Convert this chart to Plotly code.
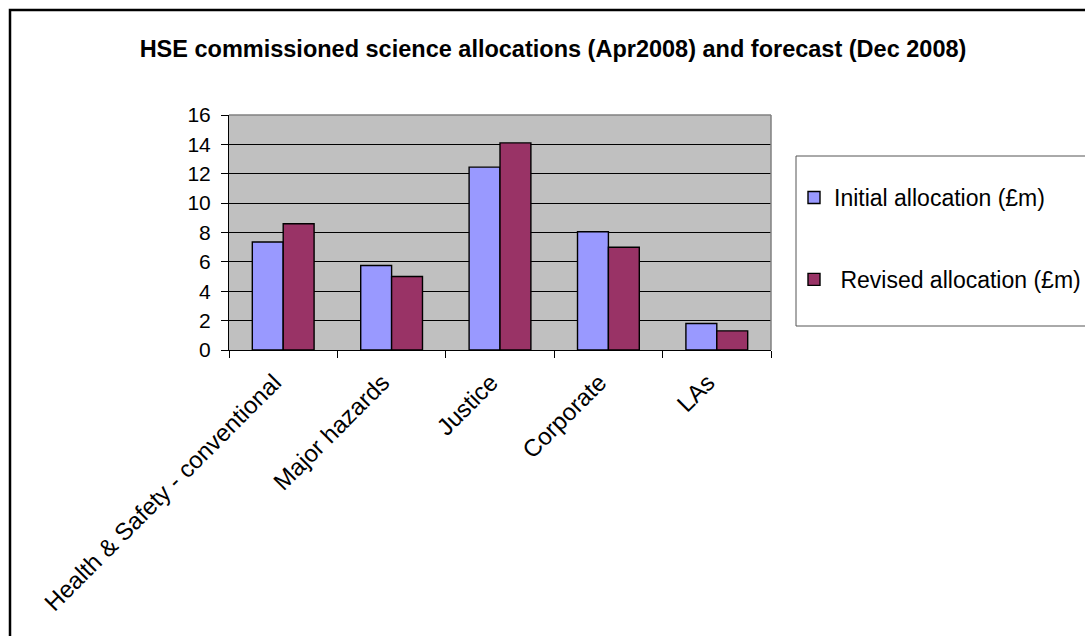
import plotly.graph_objects as go

categories = ["Health & Safety - conventional", "Major hazards", "Justice", "Corporate", "LAs"]
initial_alloc = [7.35, 5.75, 12.45, 8.05, 1.8]
revised_alloc = [8.6, 5.0, 14.1, 7.0, 1.3]
series_names = ["Initial allocation (£m)", " Revised allocation (£m)"]
y_ticks = [0, 2, 4, 6, 8, 10, 12, 14, 16]

W, H = 1085, 636
L, R, T, B = 229, 771, 115, 350

def px(x):
    return (x - L) / (R - L)

def py(y):
    return (B - y) / (B - T)

fig = go.Figure()
fig.add_trace(go.Bar(x=categories, y=initial_alloc, name=series_names[0],
                     marker=dict(color="#9999FF", line=dict(color="black", width=1.4)),
                     legendgroup="a"))
fig.add_trace(go.Bar(x=categories, y=revised_alloc, name=series_names[1],
                     marker=dict(color="#993366", line=dict(color="black", width=1.4)),
                     legendgroup="b"))

font = "Arial, Liberation Sans, sans-serif"
fig.update_layout(
    width=W, height=H,
    margin=dict(l=L, r=W - R, t=T, b=H - B, autoexpand=False),
    paper_bgcolor="white",
    plot_bgcolor="#C0C0C0",
    barmode="group", bargap=0.43, bargroupgap=0,
    font=dict(family=font, size=20, color="black"),
    title=dict(text="<b>HSE commissioned science allocations (Apr2008) and forecast (Dec 2008)</b>",
               x=553 / W, xanchor="center", y=1 - 49 / H, yanchor="middle",
               font=dict(family=font, size=23.5, color="black")),
    showlegend=True,
    legend=dict(x=px(794), y=py(176), xanchor="left", yanchor="top",
                bgcolor="rgba(0,0,0,0)", borderwidth=0,
                traceorder="grouped", tracegroupgap=49,
                font=dict(family=font, size=23, color="black")),
    xaxis=dict(showline=True, linecolor="black", linewidth=1,
               ticks="outside", ticklen=7, tickcolor="black", tickson="boundaries",
               tickangle=-45, showgrid=False, mirror=False,
               ticklabelstandoff=8, ticklabelshift=-9,
               tickfont=dict(family=font, size=24)),
    yaxis=dict(range=[0, 16], tickvals=y_ticks, showline=True, linecolor="black",
               linewidth=1, ticks="outside", ticklen=7, tickcolor="black",
               ticklabelstandoff=6,
               showgrid=True, gridcolor="black", gridwidth=1, zeroline=False,
               tickfont=dict(family=font, size=21)),
    shapes=[
        dict(type="line", xref="paper", yref="paper", x0=0, x1=1, y0=1, y1=1,
             line=dict(color="#808080", width=1.5)),
        dict(type="line", xref="paper", yref="paper", x0=1, x1=1, y0=0, y1=1,
             line=dict(color="#808080", width=1.5)),
        dict(type="rect", xref="paper", yref="paper", x0=px(796), x1=px(1100),
             y0=py(326), y1=py(156), line=dict(color="#555555", width=1)),
        dict(type="rect", xref="paper", yref="paper", x0=px(10), x1=px(1100),
             y0=py(650), y1=py(10), line=dict(color="black", width=2.5)),
    ],
)

fig.write_html("out.html")
